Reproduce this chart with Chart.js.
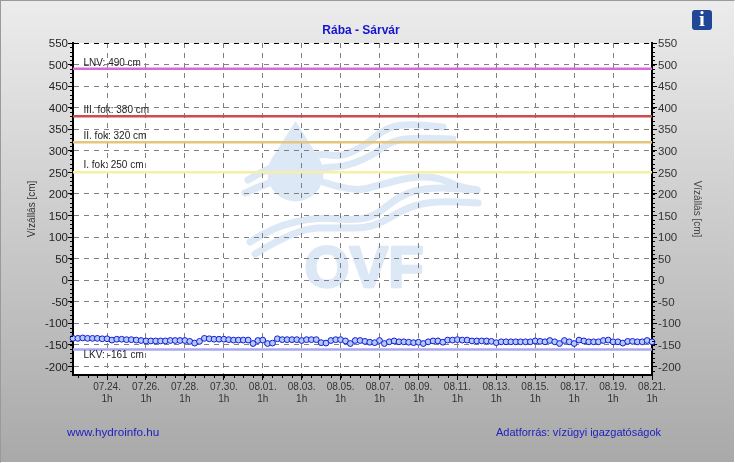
<!DOCTYPE html>
<html>
<head>
<meta charset="utf-8">
<title>Rába - Sárvár</title>
<script src="https://cdn.jsdelivr.net/npm/chart.js@4/dist/chart.umd.min.js"></script>
<style>
    html, body { margin: 0; padding: 0; background: #fff; }
    #wrap {
        position: relative; width: 733px; height: 461px;
        border-top: 1px solid #9a9a9a; border-left: 1px solid #9a9a9a;
        border-right: 1px solid #fff; border-bottom: 1px solid #fff;
        background: linear-gradient(#ececec, #a9a9a9);
    }
    canvas { position: absolute; left: -1px; top: -1px; }
</style>
</head>
<body>
<div id="wrap"><canvas id="chart" width="735" height="463"></canvas></div>
<script>
// Vízállás, 6 óránként (cm)
const vizallas = [
    -135, -135, -134, -135, -135, -135, -136, -136, -139, -137,
    -137, -138, -138, -139, -140, -141, -141, -141, -141, -141,
    -140, -140, -140, -140, -142, -146, -142, -135, -136, -137,
    -137, -137, -138, -139, -139, -139, -139, -147, -140, -139,
    -147, -146, -136, -138, -138, -138, -138, -140, -138, -138,
    -138, -145, -146, -140, -138, -138, -141, -147, -140, -140,
    -142, -144, -145, -140, -147, -143, -141, -143, -143, -144,
    -145, -144, -147, -143, -141, -141, -144, -139, -139, -138,
    -139, -139, -141, -141, -141, -141, -142, -145, -143, -143,
    -143, -143, -143, -143, -143, -141, -142, -143, -140, -143,
    -147, -140, -143, -147, -139, -141, -143, -143, -143, -140,
    -139, -143, -143, -146, -142, -142, -143, -143, -140, -143
];

// Küszöbértékek
const kuszobNevek = ['LNV: 490 cm', 'III. fok: 380 cm', 'II. fok: 320 cm', 'I. fok: 250 cm', 'LKV: -161 cm'];
const kuszobErtekek = [490, 380, 320, 250, -161];
const kuszobSzinek = ['#d86ad8', '#c84f50', '#e6c67c', '#f5f0a4', '#a9a9f0'];

const datumok = ['07.24.', '07.26.', '07.28.', '07.30.', '08.01.', '08.03.', '08.05.', '08.07.', '08.09.', '08.11.', '08.13.', '08.15.', '08.17.', '08.19.', '08.21.'];
const datumNapok = [0, 2, 4, 6, 8, 10, 12, 14, 16, 18, 20, 22, 24, 26, 28];
const yTicks = [-200, -150, -100, -50, 0, 50, 100, 150, 200, 250, 300, 350, 400, 450, 500, 550];

const X_MIN = -1.75, X_MAX = 28, Y_MIN = -220, Y_MAX = 550;
const FONT = '"Liberation Sans", Arial, sans-serif';

// Az OVF vízjel hullámai
const hullamok = [
    [[248, 180], [268, 167], [320, 153], [340, 157], [363, 147], [387, 127], [410, 124], [443, 127]],
    [[245, 193], [268, 182], [323, 167], [343, 167], [370, 157], [393, 140], [417, 138], [453, 139]],
    [[323, 182], [353, 192], [380, 185], [410, 177], [437, 177], [460, 187], [477, 190]],
    [[250, 242], [273, 227], [317, 217], [347, 220], [373, 218], [400, 195], [430, 187], [477, 190]],
    [[255, 254], [297, 228], [340, 228], [373, 228], [407, 207], [437, 201], [478, 203]]
];

function vonal(ctx, pontok) {
    ctx.beginPath();
    ctx.moveTo(pontok[0][0], pontok[0][1]);
    for (let i = 1; i < pontok.length - 1; i++) {
        const mx = (pontok[i][0] + pontok[i + 1][0]) / 2;
        const my = (pontok[i][1] + pontok[i + 1][1]) / 2;
        ctx.quadraticCurveTo(pontok[i][0], pontok[i][1], mx, my);
    }
    const u = pontok[pontok.length - 1];
    ctx.lineTo(u[0], u[1]);
    ctx.stroke();
}

const vizjel = {
    id: 'vizjel',
    beforeDraw(chart) {
        const ctx = chart.ctx;
        const a = chart.chartArea;
        ctx.save();
        ctx.fillStyle = '#fff';
        ctx.fillRect(a.left, a.top, a.right - a.left, a.bottom - a.top);

        ctx.fillStyle = '#dce8f5';
        ctx.strokeStyle = '#dce8f5';
        ctx.lineWidth = 7;
        ctx.lineCap = 'round';
        hullamok.forEach(h => vonal(ctx, h));

        // csepp
        ctx.beginPath();
        ctx.arc(295.5, 173.5, 28, 0, Math.PI * 2);
        ctx.fill();
        ctx.beginPath();
        ctx.moveTo(295.5, 121);
        ctx.lineTo(271, 160);
        ctx.lineTo(320, 160);
        ctx.closePath();
        ctx.fill();

        ctx.font = 'bold 58px ' + FONT;
        ctx.textAlign = 'center';
        ctx.textBaseline = 'alphabetic';
        ctx.lineWidth = 2.5;
        ctx.lineJoin = 'round';
        ctx.fillText('OVF', 364, 287);
        ctx.strokeText('OVF', 364, 287);
        ctx.restore();
    }
};

const feliratok = {
    id: 'feliratok',
    afterDraw(chart) {
        const ctx = chart.ctx;
        const x = chart.scales.x, y = chart.scales.y;
        const a = chart.chartArea;
        ctx.save();

        // kis osztások
        ctx.strokeStyle = '#000';
        ctx.lineWidth = 1;
        ctx.beginPath();
        for (let v = X_MIN + 0.25; v < X_MAX; v += 0.5) {
            const px = Math.round(x.getPixelForValue(v)) + 0.5;
            ctx.moveTo(px, a.bottom);
            ctx.lineTo(px, a.bottom + 3);
        }
        for (let v = Y_MIN + 10; v < Y_MAX; v += 10) {
            const py = Math.round(y.getPixelForValue(v)) + 0.5;
            ctx.moveTo(a.left - 3, py);
            ctx.lineTo(a.left, py);
            ctx.moveTo(a.right, py);
            ctx.lineTo(a.right + 3, py);
        }
        ctx.stroke();

        // küszöb feliratok
        ctx.fillStyle = '#222';
        ctx.font = '10px ' + FONT;
        ctx.textAlign = 'left';
        ctx.textBaseline = 'middle';
        const felTolas = [-6, -6, -6, -7, 6];
        kuszobNevek.forEach((nev, i) => {
            ctx.fillText(nev, 83.5, y.getPixelForValue(kuszobErtekek[i]) + felTolas[i]);
        });

        ctx.textAlign = 'center';
        ctx.fillStyle = '#1414d0';
        ctx.font = 'bold 12px ' + FONT;
        ctx.fillText('Rába - Sárvár', 361, 31);

        ctx.font = '11.7px ' + FONT;
        ctx.fillStyle = '#2020c0';
        ctx.textAlign = 'left';
        ctx.fillText('www.hydroinfo.hu', 67, 433);
        ctx.font = '11px ' + FONT;
        ctx.fillText('Adatforrás: vízügyi igazgatóságok', 496, 433);

        // info ikon
        ctx.fillStyle = '#1f4796';
        ctx.beginPath();
        ctx.roundRect(692, 10, 20, 20, 3);
        ctx.fill();
        ctx.fillStyle = '#fff';
        ctx.font = 'bold 21px "Liberation Serif", serif';
        ctx.textAlign = 'center';
        ctx.fillText('i', 702, 21);
        ctx.restore();
    }
};

const kuszobVonalak = kuszobErtekek.map((v, i) => ({
    data: [{ x: X_MIN, y: v }, { x: X_MAX, y: v }],
    borderColor: kuszobSzinek[i],
    borderWidth: 2.5,
    pointRadius: 0,
    order: 2
}));

new Chart(document.getElementById('chart'), {
    type: 'line',
    data: {
        datasets: [
            ...kuszobVonalak,
            {
                data: vizallas.map((v, i) => ({ x: X_MIN + i * 0.25, y: v })),
                borderColor: '#0000c8',
                borderWidth: 1,
                pointRadius: 2.9,
                pointBorderWidth: 1,
                pointBorderColor: '#1818d8',
                pointBackgroundColor: '#b0ccfa',
                clip: false,
                order: 1
            }
        ]
    },
    options: {
        responsive: false,
        animation: false,
        devicePixelRatio: 1,
        layout: { padding: { top: 43, bottom: 0, left: 0, right: 0 } },
        plugins: { legend: { display: false }, tooltip: { enabled: false } },
        scales: {
            x: {
                type: 'linear',
                min: X_MIN,
                max: X_MAX,
                afterBuildTicks: s => { s.ticks = datumNapok.map(v => ({ value: v })); },
                afterFit: s => { s.height = 88; },
                grid: { color: '#808080', tickColor: '#000', tickLength: 5 },
                border: { color: '#000', width: 2, dash: [5, 5] },
                ticks: {
                    maxRotation: 0,
                    autoSkip: false,
                    padding: 1,
                    color: '#333',
                    font: { family: FONT, size: 10 },
                    callback: v => [datumok[datumNapok.indexOf(v)], '1h']
                }
            },
            y: {
                type: 'linear',
                min: Y_MIN,
                max: Y_MAX,
                afterBuildTicks: s => { s.ticks = yTicks.map(v => ({ value: v })); },
                afterFit: s => { s.width = 73; },
                title: { display: true, text: 'Vízállás [cm]', color: '#333', font: { family: FONT, size: 10 }, padding: { top: 26, bottom: 0 } },
                grid: { color: c => c.tick.value === Y_MAX ? '#000' : '#808080', tickColor: '#000', tickLength: 5 },
                border: { color: '#000', width: 2, dash: [5, 5] },
                ticks: { padding: 0, labelOffset: 1, color: '#222', font: { family: FONT, size: 11.5 } }
            },
            y2: {
                type: 'linear',
                position: 'right',
                min: Y_MIN,
                max: Y_MAX,
                afterBuildTicks: s => { s.ticks = yTicks.map(v => ({ value: v })); },
                afterFit: s => { s.width = 83; },
                title: { display: true, text: 'Vízállás [cm]', color: '#444', font: { family: FONT, size: 10 }, padding: { top: 32, bottom: 0 } },
                grid: { drawOnChartArea: false, tickColor: '#000', tickLength: 5 },
                border: { color: '#000', width: 2 },
                ticks: { padding: 1, labelOffset: 1, color: '#333', font: { family: FONT, size: 11.5 } }
            }
        }
    },
    plugins: [vizjel, feliratok]
});
</script>
</body>
</html>
